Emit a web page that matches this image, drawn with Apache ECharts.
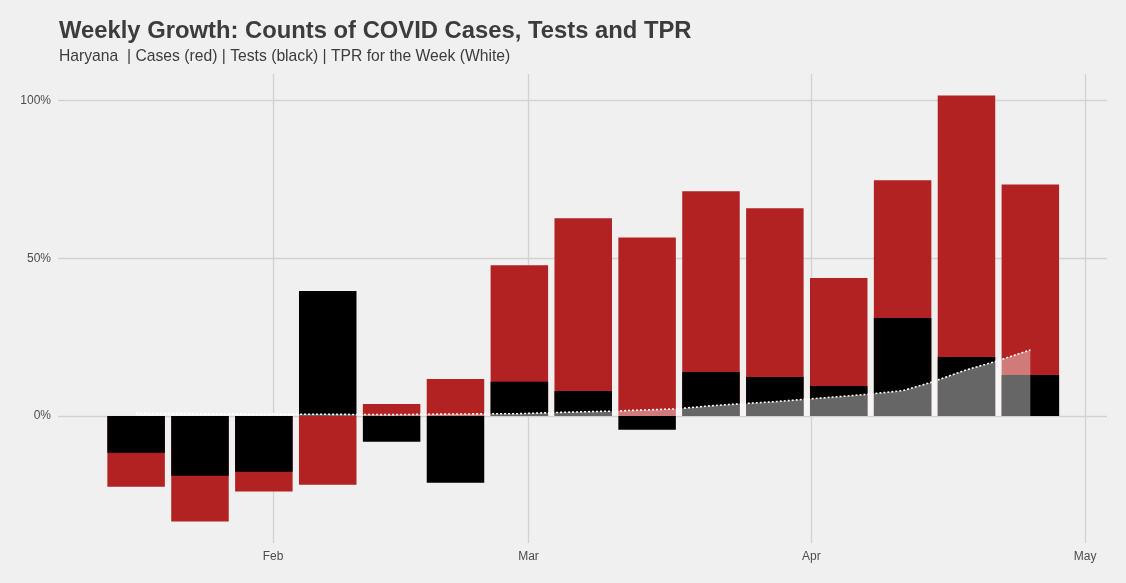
<!DOCTYPE html>
<html>
<head>
<meta charset="utf-8">
<script src="https://cdn.jsdelivr.net/npm/echarts@6/dist/echarts.min.js"></script>
<style>
html,body{margin:0;padding:0;background:#F0F0F0;}
#c{width:1126px;height:583px;}
</style>
</head>
<body>
<div id="c"></div>
<script>
// Week (bar centre dates)
const weeks = ['2021-01-17','2021-01-24','2021-01-31','2021-02-07','2021-02-14','2021-02-21','2021-02-28',
  '2021-03-07','2021-03-14','2021-03-21','2021-03-28','2021-04-04','2021-04-11','2021-04-18','2021-04-25'];
// Weekly growth of cases (%), red
const casesGrowth = [-22.5, -33.5, -24, -21.8, 3.8, 11.7, 47.8, 62.7, 56.6, 71.2, 65.8, 43.7, 74.7, 101.6, 73.4];
// Weekly growth of tests (%), black
const testsGrowth = [-11.7, -19, -17.7, 39.6, -8.2, -21.2, 10.8, 7.9, -4.4, 13.9, 12.3, 9.5, 31, 18.7, 13];
// TPR for the week (%), white
const tprDates = ['2021-01-17','2021-01-24','2021-01-31','2021-02-07','2021-02-14','2021-02-21','2021-02-28',
  '2021-03-03','2021-03-07','2021-03-10','2021-03-14','2021-03-17','2021-03-21','2021-03-24','2021-03-28',
  '2021-03-31','2021-04-04','2021-04-07','2021-04-11','2021-04-14','2021-04-18','2021-04-21','2021-04-25'];
const tprValues = [0.8, 0.7, 0.6, 0.5, 0.4, 0.6, 0.7, 1.0, 1.3, 1.5, 1.9, 2.2, 3.2, 3.8, 4.5,
  5.2, 6.1, 6.8, 8.0, 10.5, 14.6, 17.1, 20.9];
const yTicks = [0, 50, 100];
const monthTicks = ['2021-02-01','2021-03-01','2021-04-01','2021-05-01'];
const monthLabels = ['Feb','Mar','Apr','May'];

function ts(s){ const p = s.split('-').map(Number); return new Date(p[0], p[1]-1, p[2]).getTime(); }
const DAY = 86400000;
const xMin = ts('2021-02-01') - 23.56*DAY;
const xMax = ts('2021-05-01') + 2.4*DAY;
const monthTs = monthTicks.map(ts);

const chart = echarts.init(document.getElementById('c'), null, {renderer:'canvas'});
chart.setOption({
  backgroundColor:'#F0F0F0',
  animation:false,
  title:[
    {text:'Weekly Growth: Counts of COVID Cases, Tests and TPR', left:59, top:19, padding:0,
     textStyle:{fontFamily:'Liberation Sans', fontWeight:'bold', fontSize:23.8, color:'#3C3C3C'}},
    {text:'Haryana  | Cases (red) | Tests (black) | TPR for the Week (White)', left:59, top:49, padding:0,
     textStyle:{fontFamily:'Liberation Sans', fontWeight:'normal', fontSize:15.7, color:'#3C3C3C'}}
  ],
  grid:{left:58, right:19, top:74, bottom:40, containLabel:false},
  xAxis:{
    type:'value', min:xMin, max:xMax, scale:true,
    axisLine:{show:false},
    axisTick:{show:false, customValues: monthTs},
    axisLabel:{customValues: monthTs, color:'#4D4D4D', fontSize:12, fontFamily:'Liberation Sans', margin:8,
      formatter:function(v){ const i = monthTs.indexOf(v); return i >= 0 ? monthLabels[i] : ''; }},
    splitLine:{show:true, lineStyle:{color:'#D2D2D2', width:1.3}}
  },
  yAxis:{
    type:'value', min:-40.3, max:108.4,
    axisLine:{show:false},
    axisTick:{show:false, customValues: yTicks},
    axisLabel:{customValues: yTicks, color:'#4D4D4D', fontSize:12, fontFamily:'Liberation Sans', margin:7,
      formatter:function(v){ return v + '%'; }},
    splitLine:{show:true, lineStyle:{color:'#D2D2D2', width:1.3}}
  },
  series:[
    {name:'Cases', type:'bar', barWidth:57.5, barGap:'-100%',
     itemStyle:{color:'#B22222'},
     data: weeks.map((d,i)=>[ts(d), casesGrowth[i]])},
    {name:'Tests', type:'bar', barWidth:57.5, barGap:'-100%',
     itemStyle:{color:'#000000'},
     data: weeks.map((d,i)=>[ts(d), testsGrowth[i]])},
    {name:'TPR', type:'line', symbol:'none', smooth:false,
     lineStyle:{color:'#FFFFFF', width:1.6, type:[2,2]},
     areaStyle:{color:'#FFFFFF', opacity:0.4, origin:0},
     data: tprDates.map((d,i)=>[ts(d), tprValues[i]])}
  ]
});
</script>
</body>
</html>
